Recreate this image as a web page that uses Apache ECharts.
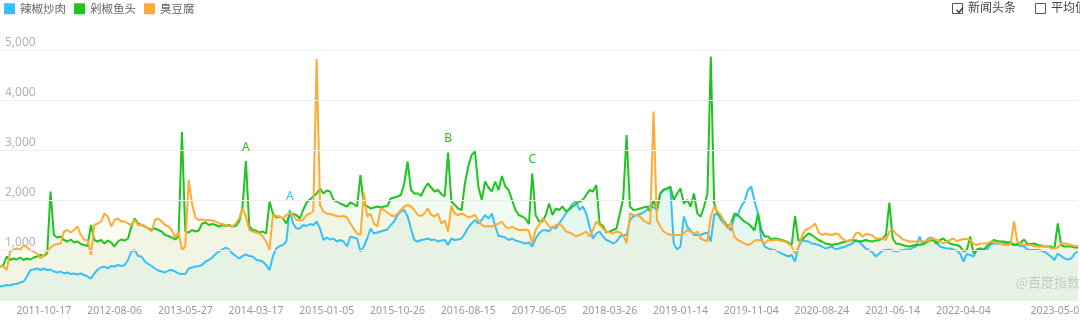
<!DOCTYPE html>
<html>
<head>
<meta charset="utf-8">
<title>百度指数</title>
<script src="https://cdn.jsdelivr.net/npm/echarts@6/dist/echarts.min.js"></script>
<style>
  html, body { margin: 0; padding: 0; background: #fff; overflow: hidden; }
  #chart { width: 1080px; height: 328px; }
</style>
</head>
<body>
<div id="chart"></div>
<script>
// Search index, one sample every two weeks starting 2011-04-18
const firstSample = '2011-04-18';
const sampleStepDays = 14;

const seriesNames = ['辣椒炒肉', '剁椒鱼头', '臭豆腐'];
const seriesColors = ['#35c1f6', '#1fc41f', '#ffab34'];

const spicyPork = [
  270, 280, 300, 290, 320, 320, 350, 370, 470, 600,
  610, 630, 600, 630, 600, 610, 570, 550, 570, 530,
  550, 520, 530, 510, 530, 500, 470, 430, 530, 610,
  650, 670, 630, 680, 670, 700, 680, 700, 800, 970,
  1000, 880, 870, 770, 720, 680, 630, 590, 570, 550,
  590, 600, 570, 530, 520, 520, 630, 650, 670, 680,
  700, 770, 800, 850, 920, 970, 1010, 1050, 1010, 930,
  880, 830, 880, 910, 880, 870, 810, 790, 770, 700,
  600, 870, 1030, 1080, 1100, 1170, 1800, 1530, 1430, 1430,
  1500, 1480, 1520, 1500, 1570, 1430, 1200, 1250, 1210, 1230,
  1170, 1200, 1170, 1070, 1270, 1250, 1230, 970, 1070, 1230,
  1430, 1330, 1350, 1370, 1390, 1410, 1500, 1570, 1700, 1770,
  1800, 1670, 1430, 1200, 1170, 1200, 1210, 1230, 1200, 1210,
  1170, 1190, 1200, 1100, 1230, 1200, 1210, 1230, 1330, 1450,
  1530, 1600, 1530, 1600, 1700, 1630, 1730, 1480, 1280, 1270,
  1250, 1200, 1230, 1190, 1170, 1150, 1130, 1150, 1070, 1230,
  1330, 1390, 1400, 1370, 1470, 1430, 1530, 1630, 1730, 1830,
  1930, 1970, 1800, 1870, 1730, 1470, 1230, 1330, 1370, 1270,
  1200, 1170, 1130, 1170, 1270, 1300, 1300, 1600, 1670, 1700,
  1720, 1750, 1800, 1900, 1850, 1800, 2130, 2210, 2230, 2230,
  1130, 1010, 1070, 1670, 1470, 1390, 1300, 1300, 1300, 1330,
  1350, 1170, 1700, 1730, 1600, 1530, 1470, 1390, 1670, 1700,
  1870, 1970, 2200, 2270, 1970, 1730, 1230, 1070, 1030, 1010,
  1000, 970, 930, 900, 870, 900, 770, 1050, 1200, 1180,
  1170, 1130, 1120, 1100, 1070, 1030, 1050, 1070, 1010, 1030,
  1050, 1070, 1100, 1130, 1200, 1170, 1100, 1030, 1000, 950,
  870, 930, 990, 1000, 1010, 990, 970, 990, 1000, 1010,
  1010, 1050, 1080, 1270, 1100, 1200, 1250, 1230, 1150, 1070,
  1050, 1030, 1030, 1010, 990, 930, 770, 920, 900, 870,
  1000, 1030, 1010, 1000, 1120, 1130, 1130, 1130, 1130, 1150,
  1170, 1100, 1100, 1080, 1070, 1010, 1000, 1000, 1000, 990,
  970, 920, 870, 800, 930, 880, 830, 810, 830, 930, 970
];

const fishHead = [
  660, 700, 870, 800, 830, 810, 850, 800, 830, 810,
  850, 870, 900, 880, 930, 2170, 1300, 1250, 1270, 1200,
  1170, 1210, 1150, 1170, 1120, 1100, 1080, 1500, 1200, 1170,
  1200, 1130, 1190, 1150, 1070, 1170, 1210, 1190, 1230, 1470,
  1630, 1530, 1500, 1470, 1430, 1410, 1430, 1400, 1370, 1300,
  1280, 1250, 1210, 1270, 3360, 1370, 1350, 1400, 1370, 1390,
  1530, 1550, 1500, 1520, 1500, 1470, 1500, 1480, 1500, 1470,
  1480, 1570, 1870, 2780, 1470, 1400, 1390, 1350, 1370, 1330,
  1970, 1730, 1650, 1670, 1630, 1530, 1730, 1720, 1700, 1630,
  1800, 1950, 2010, 2070, 2130, 2230, 2130, 2190, 2170, 2000,
  1970, 1930, 1900, 1870, 1950, 1920, 1870, 2500, 1900, 1880,
  1830, 1850, 1870, 1850, 1870, 1880, 2030, 2050, 2070, 2100,
  2330, 2770, 2200, 2130, 2130, 2080, 2230, 2330, 2250, 2170,
  2200, 2120, 2070, 2950, 1970, 1900, 1830, 1800, 2330, 2670,
  2900, 2970, 2270, 2000, 2370, 2250, 2170, 2370, 2200, 2480,
  2270, 2200, 2000, 1800, 1700, 1670, 1630, 1520, 2530, 1700,
  1570, 1570, 1700, 1930, 1700, 1830, 1800, 1870, 1770, 1810,
  1870, 1920, 1970, 2000, 2100, 2200, 2170, 2300, 1530, 1480,
  1350, 1370, 1400, 1430, 1730, 2030, 3300, 1870, 1800, 1810,
  1830, 1850, 1870, 1770, 2000, 1800, 2130, 2200, 2230, 2270,
  2000, 2130, 2230, 1930, 2000, 1870, 2130, 1730, 1670, 1870,
  2130, 4870, 1930, 1730, 1670, 1570, 1470, 1530, 1730, 1700,
  1630, 1570, 1530, 1470, 1390, 1730, 1400, 1270, 1270, 1210,
  1230, 1220, 1200, 1180, 1150, 1100, 1680, 1190, 1200, 1270,
  1330, 1300, 1250, 1200, 1170, 1130, 1120, 1100, 1120, 1130,
  1150, 1170, 1190, 1200, 1180, 1170, 1180, 1200, 1180, 1170,
  1190, 1200, 1230, 1300, 1950, 1230, 1130, 1120, 1100, 1080,
  1070, 1090, 1100, 1100, 1120, 1150, 1190, 1200, 1130, 1200,
  1230, 1170, 1130, 1110, 1100, 1070, 970, 1000, 1270, 930,
  1010, 1030, 1000, 1080, 1130, 1200, 1180, 1170, 1170, 1150,
  1130, 1100, 1120, 1150, 1210, 1120, 1120, 1130, 1100, 1090,
  1070, 1070, 1070, 1030, 1530, 1100, 1070, 1070, 1070, 1050, 1050
];

const stinkyTofu = [
  680, 670, 600, 970, 1010, 1030, 1000, 1100, 1050, 1000,
  970, 930, 830, 900, 970, 1050, 1100, 1120, 1130, 1370,
  1400, 1350, 1400, 1470, 1300, 1200, 1200, 900, 1500, 1530,
  1570, 1730, 1670, 1470, 1600, 1630, 1570, 1570, 1530, 1500,
  1600, 1500, 1510, 1480, 1430, 1370, 1600, 1630, 1570, 1500,
  1470, 1400, 1250, 1370, 1000, 1070, 2400, 1930, 1650, 1600,
  1610, 1590, 1600, 1590, 1570, 1530, 1520, 1500, 1480, 1470,
  1530, 1630, 1830, 1670, 1400, 1370, 1350, 1330, 1270, 1170,
  1000, 1700, 1680, 1670, 1630, 1700, 1730, 1700, 1600, 1590,
  1610, 1700, 1730, 1770, 4820, 1900, 1770, 1730, 1720, 1700,
  1680, 1670, 1680, 1650, 1530, 1430, 1330, 1300, 2150, 1670,
  1730, 1530, 1470, 1830, 1800, 1750, 1700, 1670, 1730, 1800,
  1870, 1900, 1870, 1800, 1700, 1680, 1730, 1830, 1700, 1670,
  1730, 1530, 1590, 1370, 1880, 1730, 1700, 1730, 1700, 1650,
  1670, 1700, 1600, 1500, 1470, 1480, 1470, 1500, 1530, 1570,
  1470, 1430, 1470, 1430, 1400, 1400, 1410, 1390, 1130, 1400,
  1500, 1630, 1570, 1470, 1430, 1500, 1520, 1470, 1370, 1350,
  1320, 1270, 1300, 1330, 1370, 1270, 1400, 1570, 1500, 1430,
  1370, 1350, 1330, 1370, 1350, 1300, 1130, 1730, 1700, 1700,
  1670, 1590, 1550, 1520, 3770, 1600, 1470, 1370, 1330, 1300,
  1300, 1300, 1300, 1330, 1400, 1370, 1330, 1370, 1230, 1200,
  1170, 1670, 1870, 1770, 1700, 1530, 1430, 1550, 1270, 1200,
  1170, 1130, 1100, 1130, 1190, 1200, 1190, 1130, 1200, 1190,
  1200, 1200, 1180, 1170, 1130, 1070, 930, 1070, 1270, 1400,
  1430, 1470, 1530, 1350, 1300, 1330, 1310, 1300, 1330, 1310,
  1230, 1190, 1170, 1210, 1330, 1350, 1270, 1320, 1310, 1290,
  1230, 1230, 1230, 1200, 1370, 1410, 1320, 1280, 1210, 1190,
  1170, 1170, 1170, 1170, 1170, 1180, 1210, 1230, 1200, 1170,
  1130, 1170, 1200, 1230, 1180, 1200, 1220, 1220, 1200, 1120,
  1100, 1130, 1130, 1130, 1170, 1170, 1130, 1130, 1100, 1100,
  1120, 1570, 1170, 1120, 1100, 1100, 1100, 1080, 1070, 1070,
  1070, 1070, 1030, 1030, 1050, 1130, 1130, 1120, 1100, 1080, 1080
];

// Dates printed under the x axis
const tickLabels = [
  '2011-10-17', '2012-08-06', '2013-05-27', '2014-03-17', '2015-01-05',
  '2015-10-26', '2016-08-15', '2017-06-05', '2018-03-26', '2019-01-14',
  '2019-11-04', '2020-08-24', '2021-06-14', '2022-04-04', '2023-05-01'
];

// News headline markers: series index, week, letter
const newsMarks = [
  { series: 1, date: '2014-02-03', tag: 'A' },
  { series: 0, date: '2014-08-04', tag: 'A' },
  { series: 1, date: '2016-05-23', tag: 'B' },
  { series: 1, date: '2017-05-08', tag: 'C' }
];

const seriesValues = [spicyPork, fishHead, stinkyTofu];

function buildDates(count) {
  const [y, m, d] = firstSample.split('-').map(Number);
  const t0 = Date.UTC(y, m - 1, d);
  const out = [];
  for (let i = 0; i < count; i++) {
    out.push(new Date(t0 + i * sampleStepDays * 86400000).toISOString().slice(0, 10));
  }
  return out;
}
const dates = buildDates(spicyPork.length);

function hexToRgba(hex, a) {
  const n = parseInt(hex.slice(1), 16);
  return 'rgba(' + ((n >> 16) & 255) + ',' + ((n >> 8) & 255) + ',' + (n & 255) + ',' + a + ')';
}

const chart = echarts.init(document.getElementById('chart'), null, { renderer: 'canvas' });

const series = seriesNames.map((name, si) => {
  const marks = newsMarks.filter(m => m.series === si).map(m => {
    const idx = dates.indexOf(m.date);
    return { name: m.tag, coord: [m.date, seriesValues[si][idx]] };
  });
  return {
    name: name,
    type: 'line',
    data: seriesValues[si],
    showSymbol: false,
    symbol: 'none',
    lineStyle: { width: 2, color: seriesColors[si] },
    itemStyle: { color: seriesColors[si] },
    areaStyle: { color: hexToRgba(seriesColors[si], 0.09) },
    markPoint: marks.length ? {
      symbol: 'circle',
      symbolSize: 1,
      itemStyle: { color: 'rgba(0,0,0,0)' },
      label: {
        show: true,
        position: 'top',
        distance: 7,
        formatter: '{b}',
        color: seriesColors[si],
        fontSize: 12,
        fontFamily: 'Noto Sans'
      },
      data: marks
    } : undefined
  };
});

chart.setOption({
  animation: false,
  color: seriesColors,
  legend: {
    left: 4,
    top: 3,
    padding: 0,
    icon: 'rect',
    itemWidth: 11,
    itemHeight: 11,
    itemGap: 8,
    textStyle: { color: '#666', fontSize: 11.5, fontFamily: 'Noto Sans CJK SC' },
    data: seriesNames
  },
  grid: { left: 0, right: 2, top: 50, bottom: 28, containLabel: false, outerBoundsMode: 'none' },
  xAxis: {
    type: 'category',
    data: dates,
    boundaryGap: false,
    axisLine: { show: false },
    axisTick: { show: false },
    splitLine: { show: false },
    axisLabel: {
      interval: (index, value) => tickLabels.indexOf(value) !== -1,
      color: '#999',
      fontSize: 10.5,
      fontFamily: 'Noto Sans',
      margin: 6,
      hideOverlap: false
    }
  },
  yAxis: {
    type: 'value',
    min: 0,
    max: 5000,
    interval: 1000,
    axisLine: { show: false },
    axisTick: { show: false },
    splitLine: { lineStyle: { color: '#eeeeee', width: 1 } },
    axisLabel: {
      inside: true,
      showMinLabel: false,
      margin: 5,
      align: 'left',
      verticalAlign: 'bottom',
      padding: [0, 0, 1, 0],
      color: '#b3b3b3',
      fontSize: 12,
      fontFamily: 'Noto Sans',
      formatter: v => v.toLocaleString('en-US')
    },
    z: 5
  },
  graphic: [
    // 新闻头条 (checked)
    { type: 'rect', left: 952, top: 3, shape: { width: 10, height: 10 },
      style: { fill: '#fff', stroke: '#555', lineWidth: 1 } },
    { type: 'polyline', left: 954, top: 5, shape: { points: [[0, 3], [2.5, 5.5], [6.5, 0.5]] },
      style: { fill: null, stroke: '#333', lineWidth: 1.3 } },
    { type: 'text', left: 968, top: 1,
      style: { text: '新闻头条', fill: '#444', fontSize: 12, fontFamily: 'Noto Sans CJK SC' } },
    // 平均值 (unchecked)
    { type: 'rect', left: 1035, top: 3, shape: { width: 10, height: 10 },
      style: { fill: '#fff', stroke: '#555', lineWidth: 1 } },
    { type: 'text', left: 1051, top: 1,
      style: { text: '平均值', fill: '#444', fontSize: 12, fontFamily: 'Noto Sans CJK SC' } },
    // watermark
    { type: 'text', right: 0, top: 276, z: 10,
      style: { text: '@百度指数', fill: 'rgba(0,0,0,0.16)', fontSize: 13, fontFamily: 'Noto Sans CJK SC' } }
  ],
  series: series
});
</script>
</body>
</html>
